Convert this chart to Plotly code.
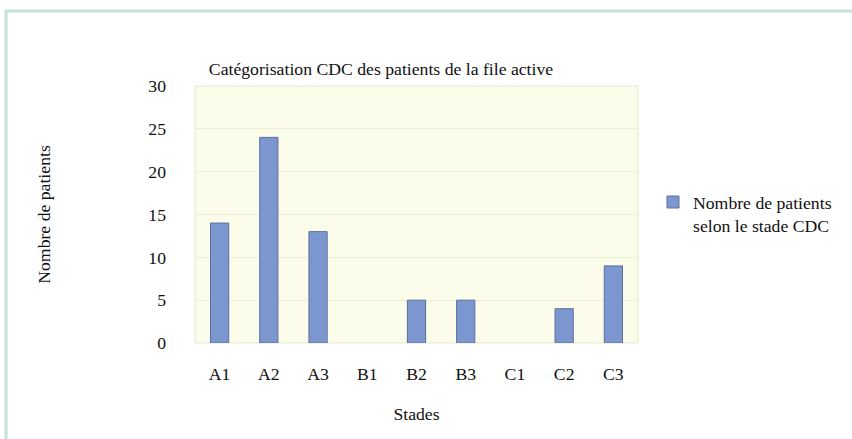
import plotly.graph_objects as go

stades = ["A1", "A2", "A3", "B1", "B2", "B3", "C1", "C2", "C3"]
patients = [14, 24, 13, 0, 5, 5, 0, 4, 9]
y_ticks = [0, 5, 10, 15, 20, 25, 30]

W, H = 852, 439
L, R, T, B = 195, 214, 86, 96
pw, ph = W - L - R, H - T - B

def px_x(x):
    return (x - L) / pw

def px_y(y):
    return (H - B - y) / ph

font = "Liberation Serif"
FS = 17.7

fig = go.Figure()
fig.add_trace(go.Bar(
    x=stades, y=patients,
    name="Nombre de patients<br>selon le stade CDC",
    marker=dict(color="#7c96d0",
                line=dict(color="#5b6f9c", width=[1 if v > 0 else 0 for v in patients])),
    showlegend=True,
))

fig.update_layout(
    width=W, height=H,
    margin=dict(l=L, r=R, t=T, b=B, autoexpand=False),
    paper_bgcolor="white",
    plot_bgcolor="#fbfce9",
    font=dict(family=font, size=FS, color="#111111"),
    bargap=0.63,
    title=dict(
        text="Catégorisation CDC des patients de la file active",
        x=381 / W, xanchor="center", xref="container",
        y=1 - 69 / H, yanchor="middle", yref="container",
        font=dict(family=font, size=FS, color="#111111"),
    ),
    xaxis=dict(
        title=dict(text="Stades", standoff=24, font=dict(family=font, size=FS)),
        showgrid=False, showline=False, zeroline=False,
        ticklabelstandoff=18, tickfont=dict(family=font, size=FS),
    ),
    yaxis=dict(
        range=[0, 30], tickvals=y_ticks,
        title=dict(text="Nombre de patients", standoff=93, font=dict(family=font, size=FS)),
        showgrid=True, gridcolor="#eceed8", gridwidth=1,
        zeroline=False, showline=False,
        ticklabelstandoff=28, tickfont=dict(family=font, size=FS),
    ),
    legend=dict(
        x=px_x(653), y=px_y(184), xanchor="left", yanchor="top",
        xref="paper", yref="paper",
        font=dict(family=font, size=FS, color="#111111"),
        bgcolor="rgba(0,0,0,0)", valign="top",
        itemwidth=30,
    ),
    shapes=[
        dict(type="rect", xref="paper", yref="paper",
             x0=px_x(6), x1=px_x(870), y0=px_y(11), y1=px_y(470),
             line=dict(color="#c3e3d6", width=3), fillcolor="rgba(0,0,0,0)",
             layer="below"),
        dict(type="rect", xref="paper", yref="paper",
             x0=0, x1=1, y0=0, y1=1,
             line=dict(color="#e6e9d2", width=1), fillcolor="rgba(0,0,0,0)",
             layer="below"),
    ],
)

fig.write_html("out.html", config={"displayModeBar": False},
               post_script="document.body.style.margin='0px';")
